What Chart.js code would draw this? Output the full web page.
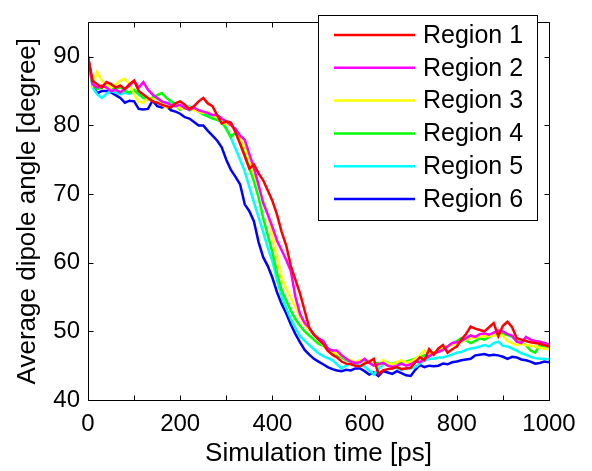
<!DOCTYPE html>
<html>
<head>
<meta charset="utf-8">
<style>
  html, body { margin: 0; padding: 0; background: #fff; }
  canvas { display: block; }
</style>
</head>
<body>
<canvas id="chart" width="592" height="471"></canvas>
<script src="https://cdn.jsdelivr.net/npm/chart.js@4.4.0/dist/chart.umd.min.js"></script>
<script>
  // simulation time [ps]
  const times = [
    0, 10, 20, 30, 40, 50, 60, 70, 80, 90,
    100, 110, 120, 130, 140, 150, 160, 170, 180, 190,
    200, 210, 220, 230, 240, 250, 260, 270, 280, 290,
    300, 310, 320, 330, 340, 350, 360, 370, 380, 390,
    400, 410, 420, 430, 440, 450, 460, 470, 480, 490,
    500, 510, 520, 530, 540, 550, 560, 570, 580, 590,
    600, 610, 620, 630, 640, 650, 660, 670, 680, 690,
    700, 710, 720, 730, 740, 750, 760, 770, 780, 790,
    800, 810, 820, 830, 840, 850, 860, 870, 880, 890,
    900, 910, 920, 930, 940, 950, 960, 970, 980, 990,
    1000
  ];

  // average dipole angle [degree] per region
  const region1 = [
    90, 86.5, 86, 85.5, 86.3, 86, 85.5, 85.8, 85.3, 86,
    86.5, 85, 84.5, 84, 83.5, 83.3, 83, 82.8, 82.6, 83.2,
    83.5, 83, 82.4, 82.8, 83.5, 84, 83.2, 82.8, 81.5, 80.3,
    80.6, 80.4, 79, 77.3, 75.5, 73.7, 74.3, 73, 72, 70.5,
    69, 67, 64.5, 62.5, 59.5, 57.5, 55.5, 53, 50.5, 49.5,
    48.8, 48.2, 47.2, 46.6, 46.2, 45.6, 45.3, 45.2, 45, 44.9,
    45.3, 45.6, 46, 43.8, 44.3, 44.5, 44.6, 44.8, 44.5, 44.6,
    44.7, 45.5, 46.2, 45.8, 47.4, 46.6, 47.5, 48, 46.9, 47.4,
    47.8, 48.8, 49.6, 50.7, 50.4, 50.2, 50, 50.6, 51.2, 49.3,
    50.8, 51.4, 50.6, 49, 48.8, 48.6, 48.4, 48.3, 48.2, 48,
    47.8
  ];
  const region2 = [
    90, 86, 85.5, 85.8, 85.5, 85, 85.2, 84.8, 85.3, 85.8,
    86.5, 85.5, 86.3, 85.2, 84.5, 84, 83.5, 83.3, 83, 82.8,
    83, 82.5, 82.3, 82.6, 82.2, 82, 81.8, 81.5, 81.5, 81,
    80.6, 80, 79.5, 78.5, 77.9, 75.8, 73.8, 71.3, 68.7, 67,
    65.2, 63.2, 61.8, 60.4, 58.8, 55, 52.5, 51.2, 50.5, 49.5,
    49, 48.6, 47.5, 47.2, 47.2, 46.5, 46, 45.6, 45.4, 45.5,
    46, 45.4, 45, 45.2, 45.4, 45, 44.8, 45, 45.3, 45,
    45.2, 45.6, 45.5, 46, 46.4, 46.8, 47, 47.3, 47.8, 48.3,
    48.4, 48.6, 49, 49.4, 49.2, 49.6, 49.7, 49.5, 49.8, 50.1,
    50, 49.6, 49.4, 48.5, 48.3, 49.2, 48.8, 48.6, 48.5, 48.3,
    48.1
  ];
  const region3 = [
    90, 86, 87.8, 86.5, 85.8, 85.5, 86, 86.5, 86.8, 86,
    84.5, 83.5, 83.3, 84, 83.8, 84, 83, 82.6, 82.8, 83,
    82.5, 82.4, 82.6, 82.2, 82, 81.8, 82, 81.5, 81.2, 80.5,
    80.2, 80, 79.2, 78, 76.8, 75.2, 73, 71.2, 69, 67.2,
    63.8, 61, 57.8, 56.2, 54.8, 53.5, 52, 51, 50.2, 49.6,
    49, 48, 47.2, 46.8, 46.8, 46.4, 46, 45.8, 45.5, 45.8,
    45.3, 45.6, 45.2, 45, 45.8, 45.4, 45.2, 45.5, 45.8, 45.4,
    45.6, 46, 46.5, 47.2, 46.8, 47, 47.2, 47.6, 47.8, 48,
    48.2, 48.5, 48.8, 49, 49.1, 49.2, 49.3, 49.3, 49.4, 49.4,
    49.4, 48.6, 48.3, 48, 48.2, 48, 47.9, 47.8, 47.6, 47.5,
    47.4
  ];
  const region4 = [
    90, 86, 85.3, 85.5, 85.8, 85.5, 85.2, 85.6, 85, 84.8,
    85.2, 84.6, 84, 83.8, 84, 84.4, 84.7, 84, 83.5, 83,
    82.3, 82.8, 82.2, 82.5, 82, 81.6, 81.3, 81, 80.8, 80.5,
    79.5, 78.3, 79, 77.5, 75.8, 73.8, 71.8, 69.5, 66.5, 64,
    61.5, 58.5, 56, 54.5, 53, 51.8, 50.8, 50, 49.4, 48.8,
    48.2, 47.9, 47.4, 47, 46.5, 46.2, 45.8, 45.6, 45.4, 45.6,
    45.8, 45.5, 45.3, 45.4, 45.3, 45.2, 45.3, 45.5, 45.3, 45.6,
    45.8, 46, 46.2, 46.5, 46.3, 46.8, 47, 47.4, 47.8, 48.2,
    48.6, 49, 48.7, 48.3, 48.6, 49, 48.8, 49.2, 49.5, 49.6,
    49.6, 49.5, 49.2, 48.6, 48.4, 48, 47.2, 46.9, 48, 47.6,
    47.4
  ];
  const region5 = [
    90, 85.5, 84.5, 84, 84.6, 85, 84.8, 84.5, 84.8, 84.6,
    85, 84.5, 84, 83.8, 84, 83.8, 83.5, 83.2, 83.5, 83,
    82.8, 82.5, 82.8, 82.4, 82, 81.8, 81.6, 81.4, 81.5, 81,
    79.5, 78.2, 76.6, 75, 73.3, 71, 68.8, 66.6, 64.5, 62.2,
    60.2, 57.5, 55.2, 53.4, 51.8, 50.5, 49.3, 48.6, 48, 47.4,
    46.8, 46.4, 46.1, 45.8, 45.2, 44.6, 45, 45.4, 45.2, 45,
    44.9, 44.3, 43.7, 44.5, 45.2, 45.5, 45, 44.6, 44.4, 44.6,
    44.6, 44.8, 45.3, 45.8, 46, 46, 46.2, 46.2, 46.4, 46.6,
    46.9, 47, 47.3, 47.5, 47.6, 47.8, 48, 47.8, 48.3, 48.5,
    47.9, 47.8, 47.5, 47.2, 46.8, 46.6, 46.3, 46.1, 46, 46,
    45.9
  ];
  const region6 = [
    90, 85.8, 84.7, 85, 85, 84.8, 84.4, 84, 83.3, 83.6,
    83.5, 82.4, 82.3, 82.4, 83.6, 82.8, 82.6, 82.8, 82.2, 82,
    81.7, 81.2, 81, 80.5, 80, 80, 79.2, 78.5, 77.8, 76.8,
    75, 73.5, 72.5, 71.4, 68.5, 67.5, 66, 63, 60.8, 59.5,
    57.8, 55.7, 54, 52.6, 51, 49.6, 48.4, 47.3, 46.6, 46,
    45.6, 45.2, 44.8, 44.5, 44.3, 44.2, 44.4, 44.3, 44.6, 44.6,
    44.2, 43.7, 44, 43.5, 44.2, 44, 43.8, 44.2, 43.9, 43.6,
    43.5, 44.4, 45.1, 44.8, 45, 44.9, 45, 45.3, 45.2, 45.5,
    45.6, 45.8, 45.9, 46, 46.5, 46.6, 46.7, 46.5, 46.6, 46.5,
    46.3, 46, 46.3, 46.2, 45.9, 45.8, 45.6, 45.3, 45.4, 45.6,
    45.5
  ];

  const regionNames = ["Region 1", "Region 2", "Region 3", "Region 4", "Region 5", "Region 6"];
  const regionColors = ["#ff0000", "#ff00ff", "#ffff00", "#00ff00", "#00ffff", "#0000ff"];
  const regionValues = [region1, region2, region3, region4, region5, region6];

  const xTicks = [0, 100, 200, 300, 400, 500, 600, 700, 800, 900, 1000];
  const xLabels = [0, 200, 400, 600, 800, 1000];
  const yTicks = [40, 50, 60, 70, 80, 90];

  const FONT = 'Arial, "Liberation Sans", Helvetica, sans-serif';

  //box round the axes with inward ticks on all sides
  const framePlugin = {
    id: "frame",
    afterDatasetsDraw(chart) {
      const { ctx, chartArea: a, scales: { x, y } } = chart;
      const L = Math.round(a.left) + 0.5, R = Math.round(a.right) + 0.5;
      const T = Math.round(a.top) + 0.5, B = Math.round(a.bottom) + 0.5;
      ctx.save();
      ctx.strokeStyle = "#000";
      ctx.lineWidth = 1;
      ctx.beginPath();
      ctx.rect(L, T, R - L, B - T);
      xTicks.forEach(v => {
        const px = Math.round(x.getPixelForValue(v)) + 0.5;
        ctx.moveTo(px, B); ctx.lineTo(px, B - 5);
        ctx.moveTo(px, T); ctx.lineTo(px, T + 5);
      });
      yTicks.forEach(v => {
        const py = Math.round(y.getPixelForValue(v)) + 0.5;
        ctx.moveTo(L, py); ctx.lineTo(L + 5, py);
        ctx.moveTo(R, py); ctx.lineTo(R - 5, py);
      });
      ctx.stroke();
      ctx.restore();
    }
  };

  //legend box in the upper right of the axes
  const legendPlugin = {
    id: "boxLegend",
    afterDraw(chart) {
      const { ctx } = chart;
      const box = { x: 318.5, y: 15.5, w: 219, h: 205 };
      ctx.save();
      ctx.fillStyle = "#fff";
      ctx.fillRect(box.x, box.y, box.w, box.h);
      ctx.strokeStyle = "#000";
      ctx.lineWidth = 1;
      ctx.strokeRect(box.x, box.y, box.w, box.h);
      ctx.font = "25px " + FONT;
      ctx.textBaseline = "middle";
      ctx.fillStyle = "#000";
      chart.data.datasets.forEach((ds, i) => {
        const ry = 35 + i * 32.8;
        ctx.strokeStyle = ds.borderColor;
        ctx.lineWidth = 2.5;
        ctx.beginPath();
        ctx.moveTo(334, ry); ctx.lineTo(415, ry);
        ctx.stroke();
        ctx.fillText(ds.label, 423, ry + 1);
      });
      ctx.restore();
    }
  };

  const datasets = regionNames.map((name, i) => ({
    label: name,
    borderColor: regionColors[i],
    backgroundColor: regionColors[i],
    borderWidth: 2.5,
    pointRadius: 0,
    tension: 0,
    fill: false,
    data: times.map((t, j) => ({ x: t, y: regionValues[i][j] }))
  }));

  new Chart(document.getElementById("chart").getContext("2d"), {
    type: "line",
    data: { datasets },
    plugins: [framePlugin, legendPlugin],
    options: {
      responsive: false,
      animation: false,
      devicePixelRatio: 1,
      layout: { padding: { left: 0, right: 43, top: 2, bottom: 0 } },
      plugins: { legend: { display: false }, tooltip: { enabled: false } },
      scales: {
        x: {
          type: "linear",
          min: 0,
          max: 1000,
          afterFit: s => { s.height = 71; },
          afterBuildTicks: s => { s.ticks = xLabels.map(v => ({ value: v })); },
          grid: { display: false, drawTicks: false },
          border: { display: false },
          ticks: { color: "#000", font: { family: FONT, size: 24 }, padding: 10, maxRotation: 0, autoSkip: false,
                   callback: v => String(v) },
          title: { display: true, text: "Simulation time [ps]", color: "#000", font: { family: FONT, size: 26 }, padding: { top: 0, bottom: 2 } }
        },
        y: {
          min: 40,
          max: 95,
          afterFit: s => { s.width = 88; },
          afterBuildTicks: s => { s.ticks = yTicks.map(v => ({ value: v })); },
          grid: { display: false, drawTicks: false },
          border: { display: false },
          ticks: { color: "#000", font: { family: FONT, size: 24 }, padding: 8, callback: v => String(v) },
          title: { display: true, text: "Average dipole angle [degree]", color: "#000", font: { family: FONT, size: 26 }, padding: { top: 12, bottom: 0 } }
        }
      }
    }
  });
</script>
</body>
</html>
